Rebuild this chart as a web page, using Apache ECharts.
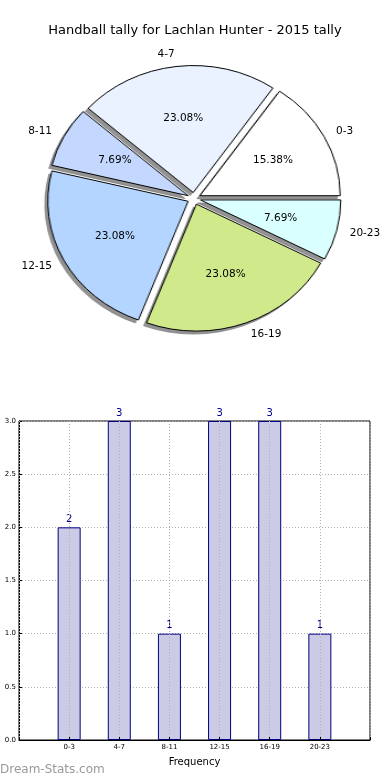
<!DOCTYPE html>
<html>
<head>
<meta charset="utf-8">
<script src="https://cdn.jsdelivr.net/npm/echarts@6/dist/echarts.min.js"></script>
<style>
html,body{margin:0;padding:0;background:#fff;}
#pie{position:absolute;left:0;top:0;width:390px;height:400px;transform-origin:194px 198.5px;transform:scaleX(1.105);}
#main{position:absolute;left:0;top:0;width:390px;height:780px;}
</style>
</head>
<body>
<div id="pie"></div>
<div id="main"></div>
<script>
// ---- data ----
const categories = ['0-3', '4-7', '8-11', '12-15', '16-19', '20-23'];
const values = [2, 3, 1, 3, 3, 1];
const yTicks = ['0.0', '0.5', '1.0', '1.5', '2.0', '2.5', '3.0'];
const titleText = 'Handball tally for Lachlan Hunter - 2015 tally';
const xAxisName = 'Frequency';
const watermark = 'Dream-Stats.com';

// ---- style ----
const sliceColors = ['#ffffff', '#eaf2ff', '#c4d8ff', '#b3d5ff', '#d0ea8b', '#d9ffff'];
const FONT = 'DejaVu Sans';
const CX = 194, CY = 198.5, R = 127, SX = 1.105, OFF = 6;

const pieData = categories.map((c, i) => ({
  name: c, value: values[i], selected: true,
  itemStyle: { color: sliceColors[i] }
}));
const shadowData = categories.map((c, i) => ({ name: c, value: values[i], selected: true }));

// slices (horizontally stretched to an ellipse)
const pieChart = echarts.init(document.getElementById('pie'), null, { renderer: 'canvas' });
const pieCommon = {
  type: 'pie', radius: R, startAngle: 0, clockwise: false,
  selectedMode: 'multiple', selectedOffset: OFF, avoidLabelOverlap: false,
  label: { show: false }, labelLine: { show: false },
  emphasis: { disabled: true }, silent: true
};
pieChart.setOption({
  animation: false,
  series: [
    Object.assign({}, pieCommon, {
      center: [CX - 2.7, CY + 3],
      itemStyle: { color: '#939393', borderColor: '#6e6e6e', borderWidth: 0.6 },
      data: shadowData
    }),
    Object.assign({}, pieCommon, {
      center: [CX, CY],
      itemStyle: { borderColor: '#000', borderWidth: 1 },
      data: pieData
    })
  ]
});

function stretch(p) {
  const r = p.labelRect;
  let ax = r.x + r.width / 2;
  if (p.align === 'left') ax = r.x;
  else if (p.align === 'right') ax = r.x + r.width;
  return { dx: (ax - CX) * (SX - 1) };
}

const labelData = categories.map((c, i) => ({ name: c, value: values[i], selected: true }));
const transparent = { color: 'rgba(0,0,0,0)', borderWidth: 0 };

const chart = echarts.init(document.getElementById('main'), null, { renderer: 'canvas' });
chart.setOption({
  animation: false,
  textStyle: { fontFamily: FONT },
  title: {
    text: titleText, left: 'center', top: 19,
    textStyle: { fontFamily: FONT, fontSize: 13, fontWeight: 'normal', color: '#000' }
  },
  graphic: [{
    type: 'text', left: 0, top: 764,
    style: { text: watermark, fontFamily: FONT, fontSize: 12, fill: '#9a9a9a' }
  }],
  grid: { left: 19, right: 20, top: 421, bottom: 40, show: true, borderColor: '#000', borderWidth: 1 },
  xAxis: {
    type: 'value', min: -1, max: 6, interval: 1, z: 3,
    name: xAxisName, nameLocation: 'middle', nameGap: 17,
    nameTextStyle: { fontFamily: FONT, fontSize: 10, color: '#000' },
    axisLine: { show: true, onZero: false, lineStyle: { color: '#000' } },
    axisTick: { show: true, inside: true, length: 3, lineStyle: { color: '#000' } },
    axisLabel: { fontSize: 7, color: '#000', margin: 4, formatter: v => categories[v] || '' },
    splitLine: { show: true, lineStyle: { color: '#b0b0b0', type: [1, 2], width: 1 } }
  },
  yAxis: {
    type: 'value', min: 0, max: 3, interval: 0.5,
    axisLine: { show: true, onZero: false, lineStyle: { color: '#000' } },
    axisTick: { show: true, inside: true, length: 3, lineStyle: { color: '#000' } },
    axisLabel: { fontSize: 7, color: '#000', margin: 3, formatter: v => yTicks[Math.round(v * 2)] },
    splitLine: { show: true, lineStyle: { color: '#b0b0b0', type: [1, 2], width: 1 } }
  },
  series: [
    {
      type: 'pie', center: [CX, CY], radius: R, startAngle: 0, clockwise: false,
      selectedMode: 'multiple', selectedOffset: OFF, avoidLabelOverlap: false,
      silent: true, emphasis: { disabled: true },
      itemStyle: transparent,
      label: { show: true, position: 'outside', formatter: '{b}', fontFamily: FONT, fontSize: 10.5, color: '#000', distanceToLabelLine: 0 },
      labelLine: { show: false, length: R * 0.1, length2: 0 },
      labelLayout: stretch,
      data: labelData
    },
    {
      type: 'pie', center: [CX, CY], radius: [17.6, R], startAngle: 0, clockwise: false,
      selectedMode: 'multiple', selectedOffset: OFF, avoidLabelOverlap: false,
      silent: true, emphasis: { disabled: true },
      itemStyle: transparent,
      label: { show: true, position: 'inside', formatter: p => p.percent.toFixed(2) + '%', fontFamily: FONT, fontSize: 10.5, color: '#000' },
      labelLine: { show: false },
      labelLayout: stretch,
      data: labelData
    },
    {
      type: 'bar', barWidth: 23, z: 2,
      itemStyle: { color: '#cbcbe5', borderColor: '#000080', borderWidth: 1 },
      label: { show: true, position: 'top', distance: 3, color: '#00008b', fontFamily: FONT, fontSize: 10, formatter: p => String(p.value[1]) },
      data: values.map((v, i) => [i, v])
    }
  ]
});
</script>
</body>
</html>
